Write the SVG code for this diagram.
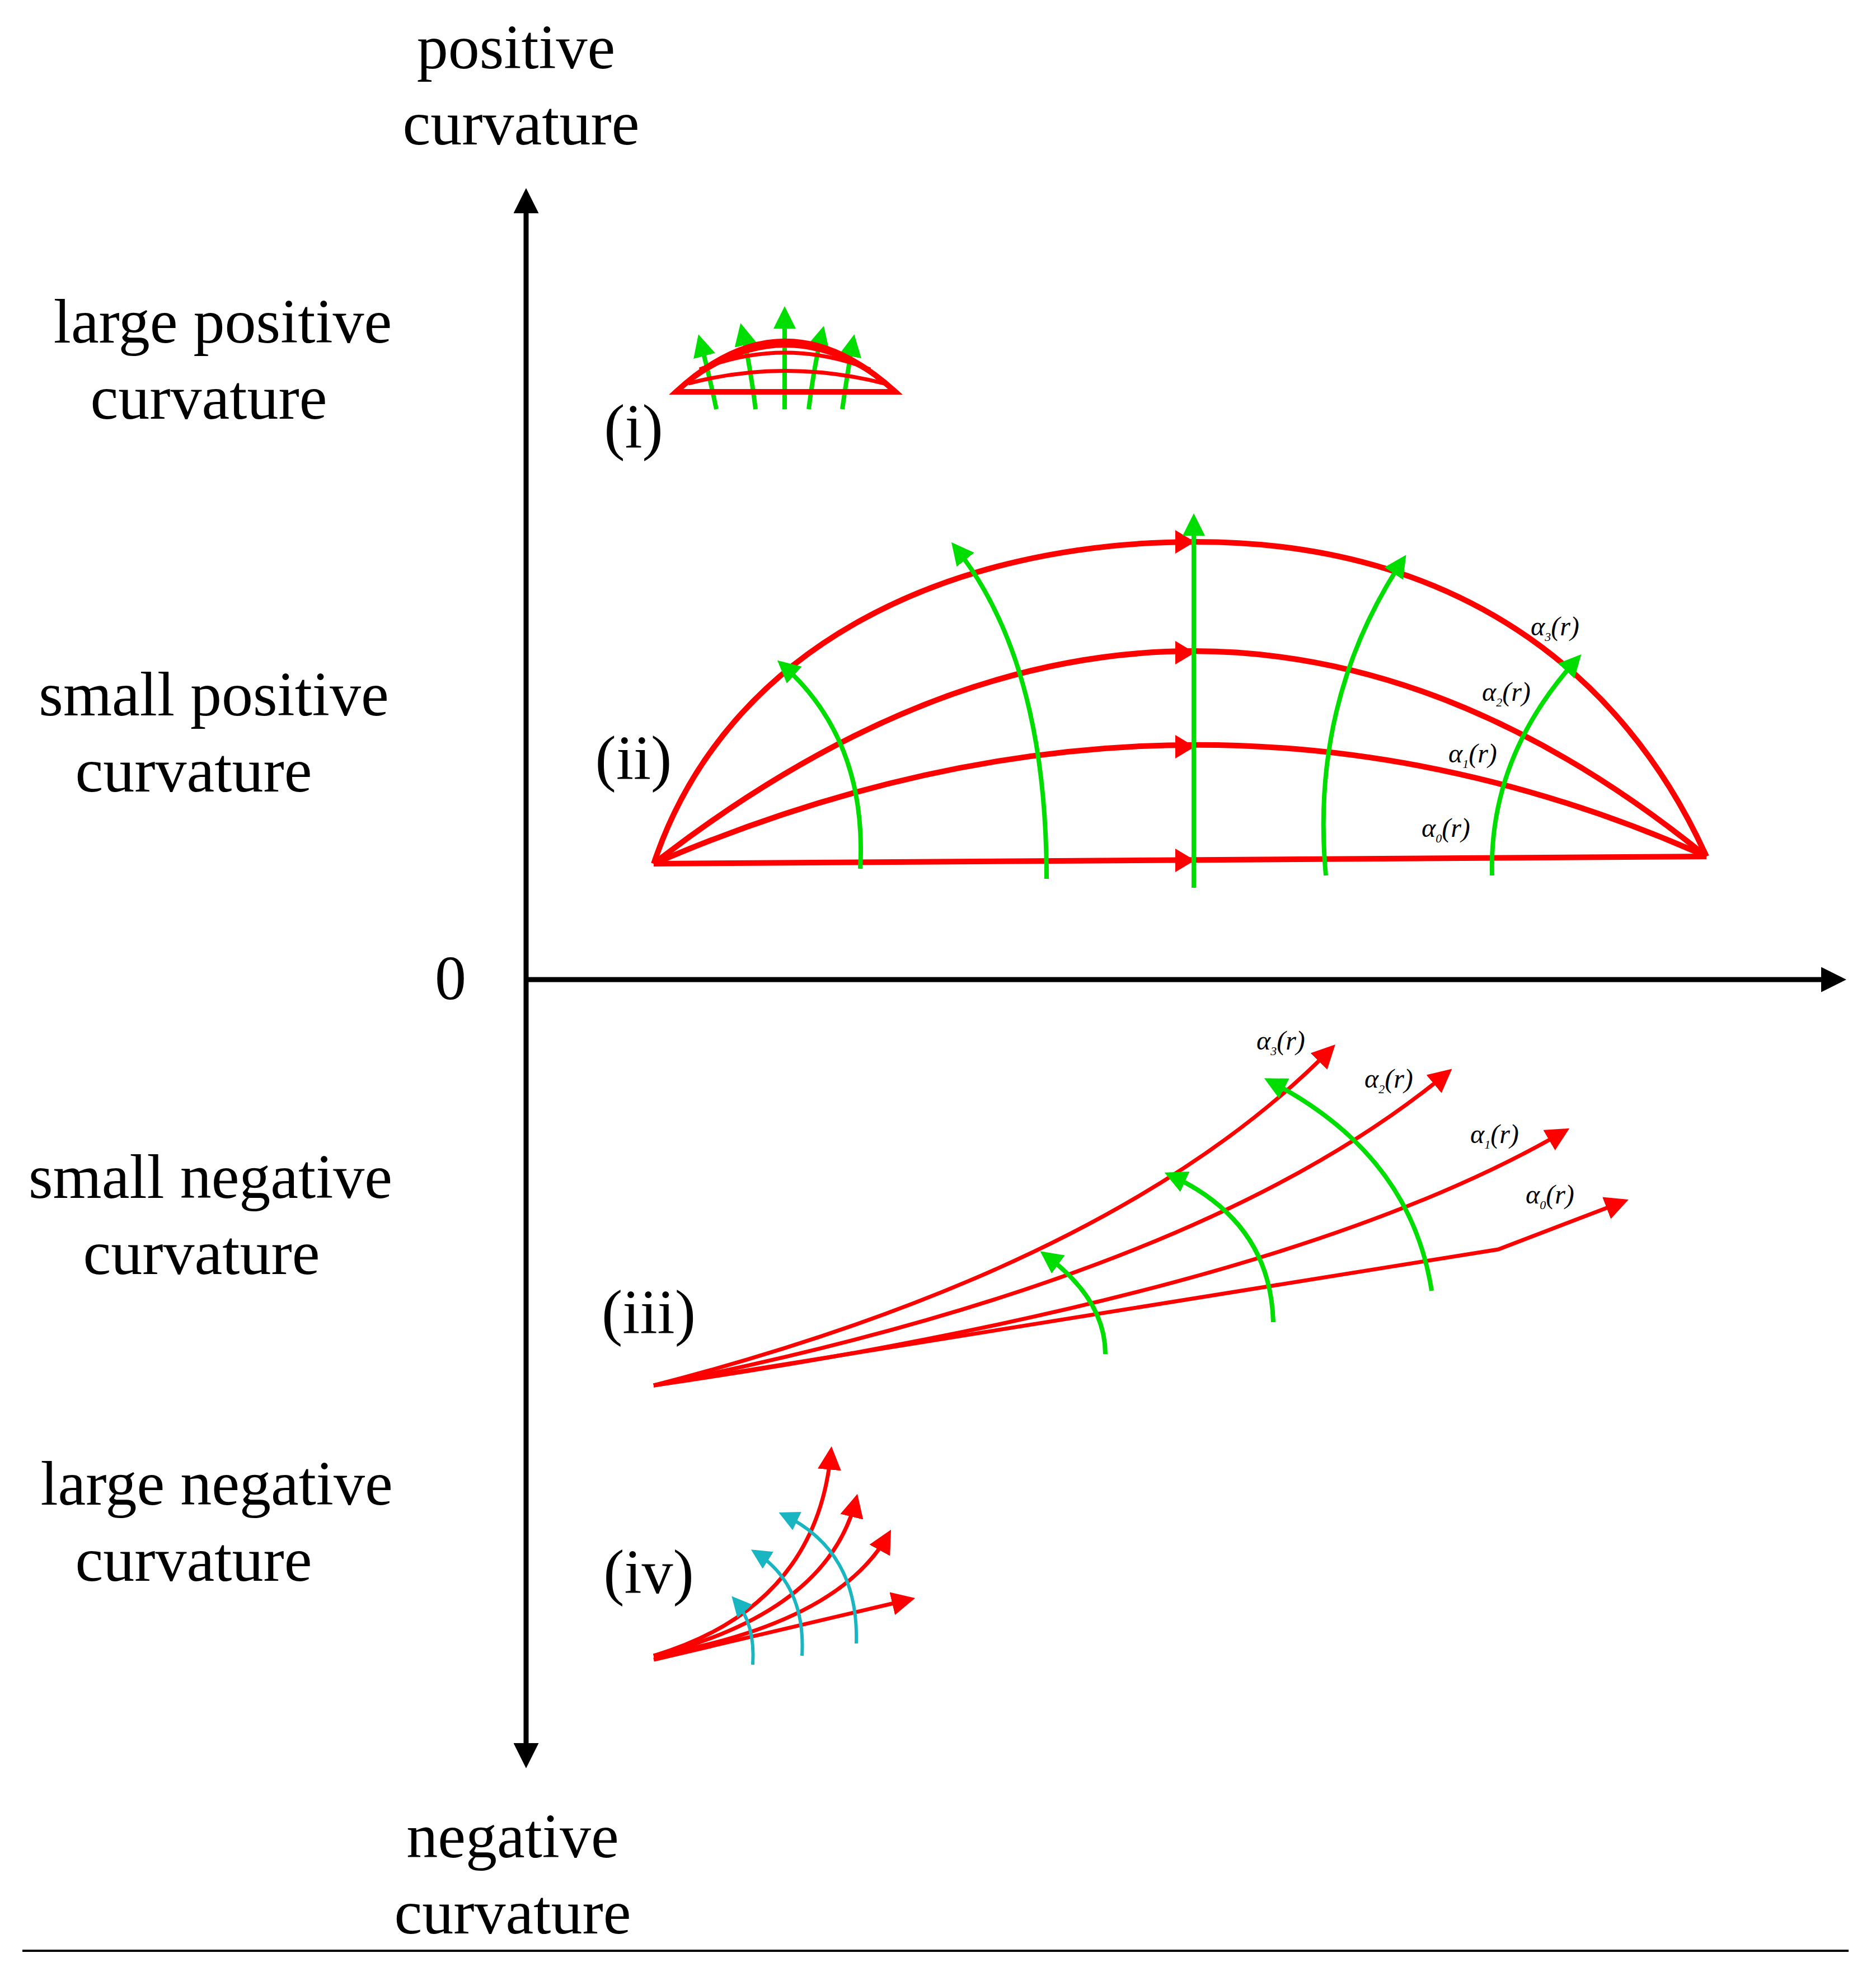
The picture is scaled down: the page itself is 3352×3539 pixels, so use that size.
<svg xmlns="http://www.w3.org/2000/svg" width="3352" height="3539" viewBox="0 0 3352 3539">
<style>
text{font-family:"Liberation Serif","Times New Roman",serif;fill:#000}
.t{font-size:112px;text-anchor:middle}
.a{font-size:48px;font-style:italic}
.r{fill:none;stroke:#ff0000;stroke-width:10}
.rt{fill:none;stroke:#ff0000;stroke-width:7}
.g{fill:none;stroke:#00dd00;stroke-width:8}
.c{fill:none;stroke:#19b5c0;stroke-width:6}
.ax{fill:none;stroke:#000;stroke-width:9}
</style>
<defs>
<marker id="mk" viewBox="0 0 10 10" refX="8" refY="5" markerWidth="5" markerHeight="5" orient="auto" markerUnits="strokeWidth"><path d="M0,0 L10,5 L0,10 z" fill="#000"/></marker>
<marker id="mg" viewBox="0 0 10 10" refX="8" refY="5" markerWidth="5" markerHeight="5" orient="auto" markerUnits="strokeWidth"><path d="M0,0 L10,5 L0,10 z" fill="#00dd00"/></marker>
<marker id="mr" viewBox="0 0 10 10" refX="8" refY="5" markerWidth="6" markerHeight="6" orient="auto" markerUnits="strokeWidth"><path d="M0,0 L10,5 L0,10 z" fill="#ff0000"/></marker>
<marker id="mc" viewBox="0 0 10 10" refX="8" refY="5" markerWidth="6" markerHeight="6" orient="auto" markerUnits="strokeWidth"><path d="M0,0 L10,5 L0,10 z" fill="#19b5c0"/></marker>
</defs>
<g id="axes">
<line class="ax" x1="940" y1="3145" x2="940" y2="345" marker-end="url(#mk)"/>
<line class="ax" x1="940" y1="3120" x2="940" y2="3150" marker-end="url(#mk)"/>
<line class="ax" x1="940" y1="1750" x2="3290" y2="1750" marker-end="url(#mk)"/>
<line x1="40" y1="3485" x2="3303" y2="3485" stroke="#000" stroke-width="4"/>
</g>
<g id="labels">
<text class="t" x="922" y="122">positive</text>
<text class="t" x="931" y="258">curvature</text>
<text class="t" x="398" y="612">large positive</text>
<text class="t" x="373" y="748">curvature</text>
<text class="t" x="382" y="1278">small positive</text>
<text class="t" x="346" y="1414">curvature</text>
<text class="t" x="376" y="2140">small negative</text>
<text class="t" x="360" y="2276">curvature</text>
<text class="t" x="387" y="2688">large negative</text>
<text class="t" x="346" y="2824">curvature</text>
<text class="t" x="916" y="3318">negative</text>
<text class="t" x="916" y="3454">curvature</text>
<text class="t" x="805" y="1785">0</text>
<text class="t" x="1132" y="800">(i)</text>
<text class="t" x="1132" y="1392">(ii)</text>
<text class="t" x="1159" y="2382">(iii)</text>
<text class="t" x="1159" y="2846">(iv)</text>
</g>
<g id="node-i">
<path class="g" d="M1280,731 Q1265,660 1250,605" marker-end="url(#mg)"/>
<path class="g" d="M1350,731 Q1340,650 1325,585" marker-end="url(#mg)"/>
<path class="g" d="M1402,731 L1402,555" marker-end="url(#mg)"/>
<path class="g" d="M1445,731 Q1455,650 1470,590" marker-end="url(#mg)"/>
<path class="g" d="M1505,731 Q1515,660 1525,605" marker-end="url(#mg)"/>
<path class="r" d="M1208,700 Q1402,520 1600,700 Z" fill="#ff0000" fill-opacity="0.15"/>
<path class="rt" d="M1240,675 Q1402,560 1570,675"/>
<path class="rt" d="M1250,660 Q1402,600 1555,660"/>
<path class="rt" d="M1230,685 Q1402,640 1580,685"/>
</g>
<g id="node-ii">
<path class="r" d="M1168,1543 L3049,1530"/>
<path class="r" d="M1168,1543 Q2138,1125 3049,1530"/>
<path class="r" d="M1168,1543 Q2138,790 3049,1530"/>
<path class="r" d="M1168,1543 C1300,1150 1700,968 2138,968 C2600,968 2900,1200 3049,1530"/>
<path d="M2100,1516 L2135,1537 L2100,1558 Z M2100,1313 L2135,1334 L2100,1355 Z M2100,1145 L2135,1166 L2100,1187 Z M2100,947 L2135,968 L2100,989 Z" fill="#ff0000"/>
<path class="g" d="M2133,1586 L2133,925" marker-end="url(#mg)"/>
<path class="g" d="M1537,1552 Q1550,1320 1395,1185" marker-end="url(#mg)"/>
<path class="g" d="M1870,1570 Q1870,1180 1705,975" marker-end="url(#mg)"/>
<path class="g" d="M2369,1564 Q2340,1250 2508,998" marker-end="url(#mg)"/>
<path class="g" d="M2666,1564 Q2660,1350 2820,1175" marker-end="url(#mg)"/>
<text class="a" x="2735" y="1135">α<tspan font-size="22" dy="10">3</tspan><tspan dy="-10">(r)</tspan></text>
<text class="a" x="2648" y="1252">α<tspan font-size="22" dy="10">2</tspan><tspan dy="-10">(r)</tspan></text>
<text class="a" x="2588" y="1362">α<tspan font-size="22" dy="10">1</tspan><tspan dy="-10">(r)</tspan></text>
<text class="a" x="2540" y="1495">α<tspan font-size="22" dy="10">0</tspan><tspan dy="-10">(r)</tspan></text>
</g>
<g id="node-iii">
<path class="rt" d="M1168,2475 Q2000,2260 2380,1872" marker-end="url(#mr)"/>
<path class="rt" d="M1168,2475 Q2150,2280 2588,1915" marker-end="url(#mr)"/>
<path class="rt" d="M1168,2475 Q2300,2310 2797,2020" marker-end="url(#mr)"/>
<path class="rt" d="M1168,2475 L2677,2232 L2902,2146" marker-end="url(#mr)"/>
<path class="g" d="M1975,2419 Q1975,2320 1865,2240" marker-end="url(#mg)"/>
<path class="g" d="M2275,2362 Q2270,2180 2088,2098" marker-end="url(#mg)"/>
<path class="g" d="M2558,2306 Q2520,2060 2266,1930" marker-end="url(#mg)"/>
<text class="a" x="2245" y="1875">α<tspan font-size="22" dy="10">3</tspan><tspan dy="-10">(r)</tspan></text>
<text class="a" x="2438" y="1943">α<tspan font-size="22" dy="10">2</tspan><tspan dy="-10">(r)</tspan></text>
<text class="a" x="2627" y="2042">α<tspan font-size="22" dy="10">1</tspan><tspan dy="-10">(r)</tspan></text>
<text class="a" x="2726" y="2150">α<tspan font-size="22" dy="10">0</tspan><tspan dy="-10">(r)</tspan></text>
</g>
<g id="node-iv">
<path class="rt" d="M1168,2958 Q1460,2870 1485,2592" marker-end="url(#mr)"/>
<path class="rt" d="M1168,2958 Q1480,2880 1530,2677" marker-end="url(#mr)"/>
<path class="rt" d="M1168,2958 Q1500,2900 1588,2740" marker-end="url(#mr)"/>
<path class="rt" d="M1168,2965 L1627,2857" marker-end="url(#mr)"/>
<path class="c" d="M1345,2974 Q1350,2900 1312,2857" marker-end="url(#mc)"/>
<path class="c" d="M1433,2958 Q1440,2830 1348,2772" marker-end="url(#mc)"/>
<path class="c" d="M1530,2936 Q1535,2770 1398,2705" marker-end="url(#mc)"/>
</g>
</svg>
